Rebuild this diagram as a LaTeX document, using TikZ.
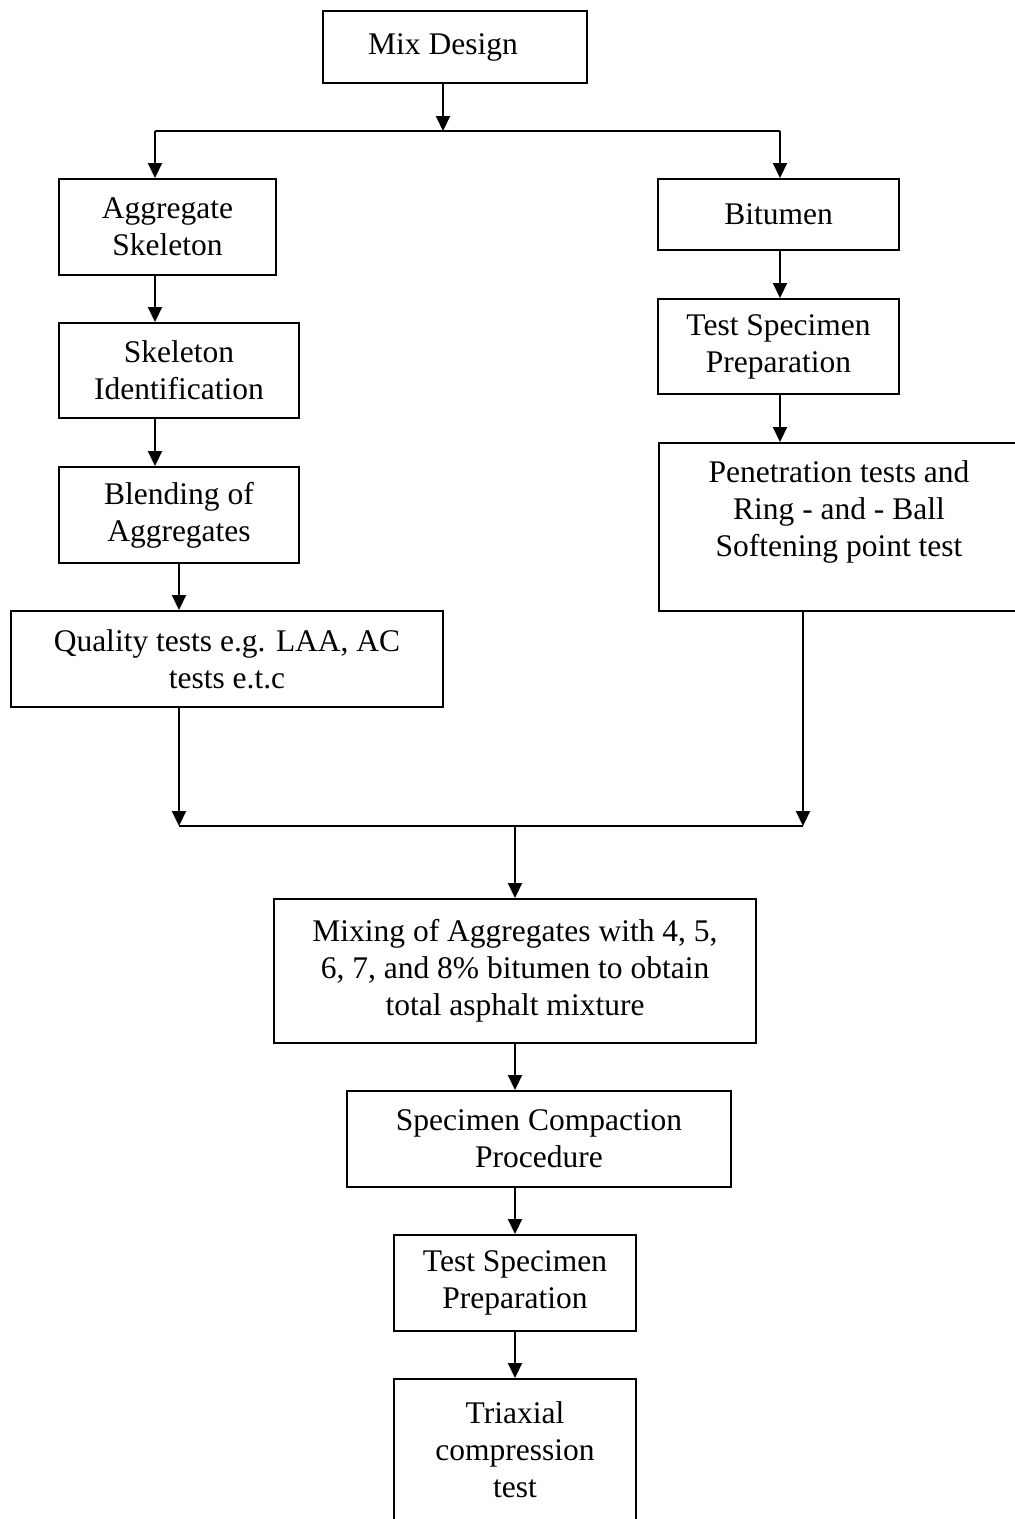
\documentclass[tikz,border=0pt]{standalone}
\usepackage{fontspec}
\setmainfont{Liberation Serif}
\usetikzlibrary{arrows.meta}

\begin{document}
\begin{tikzpicture}[x=1pt,y=-1pt,
  box/.style={draw,line width=2pt,align=center,inner sep=2pt,font=\fontsize{31.5}{37}\selectfont},
  arr/.style={line width=2pt,-{Triangle[length=15pt,width=14pt]}}]
\useasboundingbox (0,0) rectangle (1015,1519);

\node[box,minimum width=264pt,minimum height=72pt] (mix) at (455,47) {Mix Design\hspace*{24pt}};

\node[box,minimum width=217pt,minimum height=96pt] (agg) at (167.5,227) {Aggregate\\Skeleton};
\node[box,minimum width=240pt,minimum height=95pt] (skel) at (179,370.5) {Skeleton\\Identification};
\node[box,minimum width=240pt,minimum height=96pt] (blend) at (179,515) {Blending of\\Aggregates};
\node[box,minimum width=432pt,minimum height=96pt] (qual) at (227,659) {Quality tests e.g. LAA, AC\\tests e.t.c};

\node[box,minimum width=241pt,minimum height=71pt] (bit) at (778.5,214.5) {Bitumen};
\node[box,minimum width=241pt,minimum height=95pt] (tspA) at (778.5,346.5) {Test Specimen\\Preparation};
\node[box,minimum width=360pt,minimum height=168pt] (pen) at (839,527) {Penetration tests and\\Ring - and - Ball\\Softening point test\\\rule{0pt}{0pt}};

\node[box,minimum width=482pt,minimum height=144pt] (mixing) at (515,971) {Mixing of Aggregates with 4, 5,\\6, 7, and 8\% bitumen to obtain\\total asphalt mixture};
\node[box,minimum width=384pt,minimum height=96pt] (comp) at (539,1139) {Specimen Compaction\\Procedure};
\node[box,minimum width=242pt,minimum height=96pt] (tspB) at (515,1283) {Test Specimen\\Preparation};
\node[box,minimum width=242pt,minimum height=142pt] (tri) at (515,1450) {Triaxial\\compression\\test};

\coordinate (split) at (443,131);
\coordinate (lcol) at (155,0);
\coordinate (lcolB) at (179,0);
\coordinate (rcol) at (780,0);
\coordinate (qdrop) at (179,826);
\coordinate (pdrop) at (803,826);
\coordinate (join) at (515,826);

\draw[arr] (split |- mix.south) -- (split);
\draw[line width=2pt] (lcol |- split) -- (rcol |- split);
\draw[arr] (lcol |- split) -- (lcol |- agg.north);
\draw[arr] (rcol |- split) -- (rcol |- bit.north);

\draw[arr] (lcol |- agg.south) -- (lcol |- skel.north);
\draw[arr] (lcol |- skel.south) -- (lcol |- blend.north);
\draw[arr] (lcolB |- blend.south) -- (lcolB |- qual.north);

\draw[arr] (rcol |- bit.south) -- (rcol |- tspA.north);
\draw[arr] (rcol |- tspA.south) -- (rcol |- pen.north);

\draw[arr] (qdrop |- qual.south) -- (qdrop);
\draw[arr] (pdrop |- pen.south) -- (pdrop);
\draw[line width=2pt] (qdrop) -- (pdrop);

\draw[arr] (join) -- (join |- mixing.north);
\draw[arr] (join |- mixing.south) -- (join |- comp.north);
\draw[arr] (join |- comp.south) -- (join |- tspB.north);
\draw[arr] (join |- tspB.south) -- (join |- tri.north);
\end{tikzpicture}
\end{document}
